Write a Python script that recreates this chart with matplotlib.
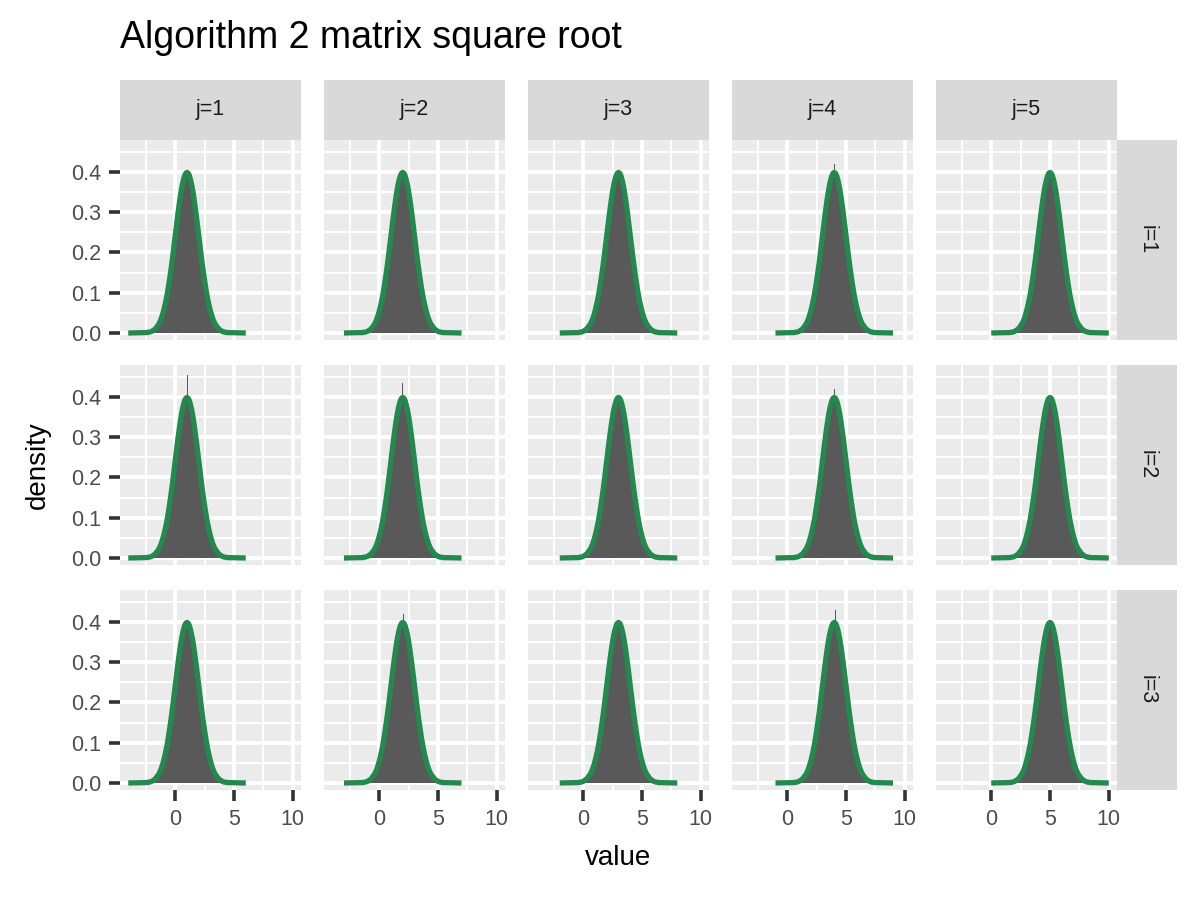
import numpy as np
import matplotlib
matplotlib.use("Agg")
import matplotlib.pyplot as plt
from matplotlib.ticker import MultipleLocator

plt.rcParams["font.family"] = ["Liberation Sans", "DejaVu Sans"]

# facet labels
col_labels = ["j=1", "j=2", "j=3", "j=4", "j=5"]
row_labels = ["i=1", "i=2", "i=3"]

# centre of each column's distribution
col_means = [1, 2, 3, 4, 5]

# density profile (right half, offsets 0.0, 0.1, ... 3.5 from the centre)
profile = [0.399, 0.397, 0.391, 0.381, 0.368, 0.352, 0.333, 0.312, 0.290, 0.266,
           0.242, 0.218, 0.194, 0.171, 0.150, 0.130, 0.111, 0.094, 0.079, 0.066,
           0.054, 0.044, 0.035, 0.028, 0.022, 0.018, 0.014, 0.010, 0.008, 0.006,
           0.004, 0.003, 0.002, 0.002, 0.001, 0.001]
profile_step = 0.1
curve_halfspan = 5.0

# the tallest histogram bar in each panel (offset from centre, height)
spike_offset = [[0.0, 0.10, 0.0, 0.05, 0.25],
                [0.05, -0.05, 0.0, 0.05, 0.0],
                [0.0, 0.05, 0.0, 0.10, 0.0]]
spike_height = [[0.400, 0.415, 0.380, 0.420, 0.415],
                [0.455, 0.435, 0.385, 0.420, 0.415],
                [0.410, 0.420, 0.400, 0.430, 0.415]]

# styling (ggplot theme_grey look)
hist_color = "#595959"
curve_color = "#23894F"
panel_bg = "#EBEBEB"
strip_bg = "#D9D9D9"
tick_color = "#333333"
label_color = "#4D4D4D"

W, H = 1200, 900
col_left = [120, 324, 528, 732, 936]
panel_w = 181
row_top = [140, 365, 590]
panel_h = 200
strip_size = 60


def rect(left, top, w, h):
    return [left / W, (H - top - h) / H, w / W, h / H]


fig = plt.figure(figsize=(12, 9), dpi=100)

offs = np.arange(len(profile)) * profile_step
bar_x = np.concatenate([-offs[:0:-1], offs])
bar_h = np.concatenate([profile[:0:-1], profile])
curve_x = np.concatenate([[-curve_halfspan], bar_x, [curve_halfspan]])
curve_y = np.concatenate([[0.0], bar_h, [0.0]])

for r in range(len(row_labels)):
    for c in range(len(col_labels)):
        ax = fig.add_axes(rect(col_left[c], row_top[r], panel_w, panel_h))
        mu = col_means[c]
        ax.set_facecolor(panel_bg)
        for s in ax.spines.values():
            s.set_visible(False)

        ax.bar(mu + bar_x, bar_h, width=profile_step, color=hist_color,
               linewidth=0, zorder=2)
        ax.bar(mu + spike_offset[r][c], spike_height[r][c], width=0.07,
               color=hist_color, linewidth=0, zorder=2)
        ax.plot(mu + curve_x, curve_y, color=curve_color, linewidth=3.8,
                solid_capstyle="butt", zorder=3)

        ax.set_xlim(-4.7, 10.7)
        ax.set_ylim(-0.0174, 0.4795)
        ax.xaxis.set_major_locator(MultipleLocator(5))
        ax.xaxis.set_minor_locator(MultipleLocator(2.5))
        ax.yaxis.set_major_locator(MultipleLocator(0.1))
        ax.yaxis.set_minor_locator(MultipleLocator(0.05))
        ax.grid(which="major", color="white", linewidth=2.8, zorder=0)
        ax.grid(which="minor", color="white", linewidth=1.4, zorder=0)
        ax.set_axisbelow(True)
        ax.tick_params(which="minor", length=0)
        ax.tick_params(which="major", length=8, width=2.6, color=tick_color,
                       labelcolor=label_color, labelsize=15.5, pad=5.5)

        if c == 0:
            ax.yaxis.set_major_formatter(lambda v, p: f"{v:.1f}")
        else:
            ax.tick_params(axis="y", which="major", length=0, labelleft=False)
        if r == len(row_labels) - 1:
            ax.xaxis.set_major_formatter(lambda v, p: f"{v:g}")
        else:
            ax.tick_params(axis="x", which="major", length=0, labelbottom=False)

        # top strips
        if r == 0:
            sax = fig.add_axes(rect(col_left[c], row_top[0] - strip_size, panel_w, strip_size))
            sax.set_facecolor(strip_bg)
            sax.set_xticks([])
            sax.set_yticks([])
            for s in sax.spines.values():
                s.set_visible(False)
            sax.text(0.5, 0.5, col_labels[c], ha="center", va="center",
                     fontsize=15.5, color="#1A1A1A", transform=sax.transAxes)

    # right strips
    sax = fig.add_axes(rect(col_left[-1] + panel_w, row_top[r], strip_size, panel_h))
    sax.set_facecolor(strip_bg)
    sax.set_xticks([])
    sax.set_yticks([])
    for s in sax.spines.values():
        s.set_visible(False)
    sax.text(0.5, 0.5, row_labels[r], ha="center", va="center", rotation=-90,
             fontsize=15.5, color="#1A1A1A", transform=sax.transAxes)

fig.text(120 / W, 1 - 38 / H, "Algorithm 2 matrix square root", ha="left", va="center",
         fontsize=27, color="black")
fig.text((col_left[0] + col_left[-1] + panel_w) / 2 / W, 1 - 858 / H, "value",
         ha="center", va="center", fontsize=20, color="black")
fig.text(38 / W, 1 - 465 / H, "density", ha="center", va="center", rotation=90,
         fontsize=20, color="black")

fig.savefig("out.png", dpi=100, facecolor="white")
